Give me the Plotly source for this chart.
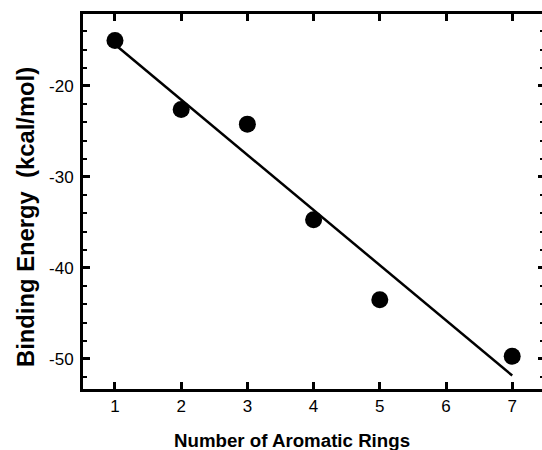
import numpy as np
import plotly.graph_objects as go

# Data
rings = [1, 2, 3, 4, 5, 7]
binding_energy = [-15.0, -22.6, -24.2, -34.7, -43.5, -49.7]
x_ticks = [1, 2, 3, 4, 5, 6, 7]
y_ticks = [-20, -30, -40, -50]
y_tick_labels = ["-20", "-30", "-40", "-50"]

x_title = "Number of Aromatic Rings"
y_title = "Binding Energy\u00a0\u00a0(kcal/mol)"

# Linear fit drawn between first and last data point
slope, intercept = np.polyfit(rings, binding_energy, 1)
fit_x = [min(rings), max(rings)]
fit_y = [slope * v + intercept for v in fit_x]

W, H = 542, 450
L, R, T, B = 83, 0, 14, 61
pw, ph = W - L - R, H - T - B

FONT = "Liberation Sans, Arial, sans-serif"

fig = go.Figure()
fig.add_trace(go.Scatter(x=fit_x, y=fit_y, mode="lines",
                         line=dict(color="black", width=2.5),
                         hoverinfo="skip", showlegend=False))
fig.add_trace(go.Scatter(x=rings, y=binding_energy, mode="markers",
                         marker=dict(color="black", size=17),
                         showlegend=False))
# invisible trace to activate the right-side tick axis
fig.add_trace(go.Scatter(x=rings, y=binding_energy, mode="markers",
                         marker=dict(opacity=0), yaxis="y2",
                         hoverinfo="skip", showlegend=False))

yr = [-53.3, -12.1]
fig.update_layout(
    width=W, height=H,
    margin=dict(l=L, r=R, t=T, b=B, pad=0),
    paper_bgcolor="white", plot_bgcolor="white",
    font=dict(family=FONT, color="black"),
    xaxis=dict(range=[0.517, 7.45], tickvals=x_ticks, ticks="inside",
               ticklen=7, tickwidth=2.5, tickcolor="black",
               showline=True, linewidth=3, linecolor="black", mirror="ticks",
               showgrid=False, zeroline=False,
               tickfont=dict(size=17, family=FONT, color="black")),
    yaxis=dict(range=yr, tickvals=y_ticks, ticktext=y_tick_labels,
               ticks="inside",
               ticklen=7, tickwidth=2.5, tickcolor="black",
               showline=True, linewidth=3, linecolor="black",
               showgrid=False, zeroline=False, ticklabelstandoff=3,
               minor=dict(dtick=2, tick0=0, ticks="inside", ticklen=4,
                          tickwidth=2, tickcolor="black", showgrid=False),
               tickfont=dict(size=17, family=FONT, color="black")),
    yaxis2=dict(range=yr, overlaying="y", side="right", matches="y",
                tickvals=y_ticks, ticks="inside", ticklen=4, tickwidth=2.5,
                tickcolor="black", showticklabels=False, showline=False,
                showgrid=False, zeroline=False,
                minor=dict(dtick=2, tick0=0, ticks="inside", ticklen=2,
                           tickwidth=2, tickcolor="black", showgrid=False)),
    annotations=[
        dict(text=x_title, xref="paper", yref="paper",
             x=(291.5 - L) / pw, y=(T + ph - 440) / ph,
             xanchor="center", yanchor="middle", showarrow=False,
             font=dict(size=18.7, family=FONT, color="black", weight="bold")),
        dict(text=y_title, xref="paper", yref="paper", textangle=-90,
             x=(25 - L) / pw, y=(T + ph - 217) / ph,
             xanchor="center", yanchor="middle", showarrow=False,
             font=dict(size=23.8, family=FONT, color="black", weight="bold")),
    ],
)

fig.write_html("out.html", config={"displayModeBar": False},
               post_script="document.body.style.margin='0';"
                           "document.body.style.overflow='hidden';")
